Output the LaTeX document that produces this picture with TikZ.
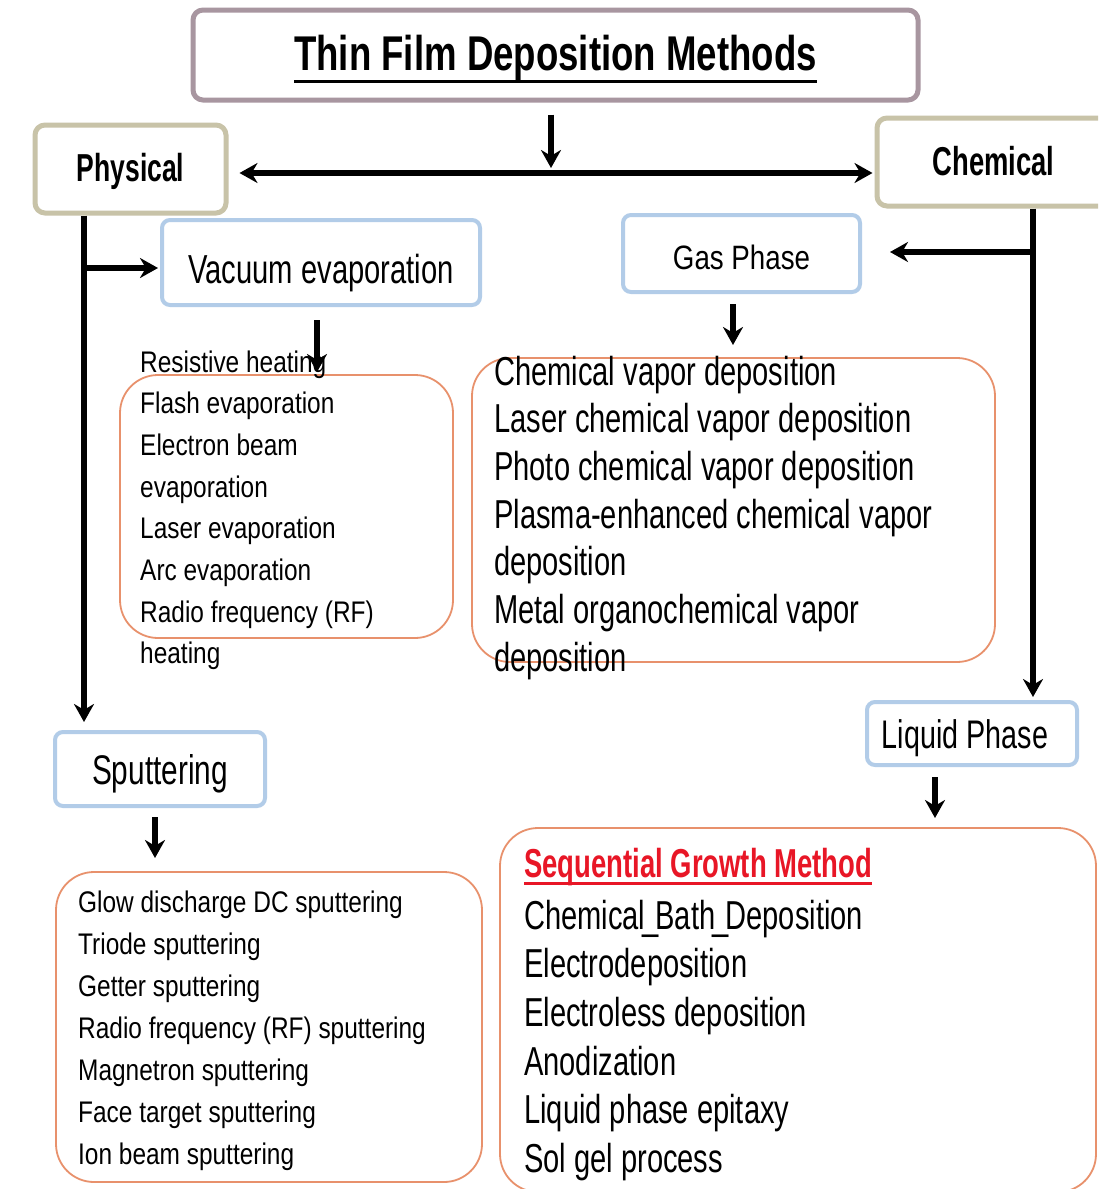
\documentclass[tikz,border=0pt]{standalone}
\usepackage{fontspec}
\setmainfont{Liberation Sans}[FakeStretch=0.72]
\newfontfamily\sfam{Liberation Sans}[FakeStretch=0.82]
\newfontfamily\bfam{Liberation Sans}[FakeStretch=0.68]
\newfontfamily\tfam{Liberation Sans}[FakeStretch=0.75]
\usetikzlibrary{arrows.meta,calc}
\definecolor{titleborder}{RGB}{168,150,160}
\definecolor{tanborder}{RGB}{200,195,168}
\definecolor{blueborder}{RGB}{178,204,232}
\definecolor{orangeborder}{RGB}{232,145,108}
\definecolor{redtext}{RGB}{232,22,38}
\newcommand\myul[3]{\setbox0\hbox{#3}\rlap{\rule[-#1]{\wd0}{#2}}\box0}
\newcommand\tightus{\kern-3pt\_\kern-3pt}
\begin{document}
\begin{tikzpicture}[x=1pt,y=-1pt,
  mybox/.style={draw, rounded corners=10pt, inner sep=0pt, align=center, fill=white},
  titlebox/.style={mybox, draw=titleborder, line width=5pt},
  catbox/.style={mybox, draw=tanborder, line width=5pt, font=\bfam\bfseries\fontsize{39}{44}\selectfont},
  subbox/.style={mybox, draw=blueborder, line width=4pt, rounded corners=8pt, font=\fontsize{40.5}{46}\selectfont},
  listbox/.style={draw=orangeborder, line width=1.8pt, rounded corners=38pt, inner sep=0pt},
  itemtxt/.style={anchor=base west, inner sep=0pt},
  smalltxt/.style={itemtxt, font=\sfam\fontsize{29.8}{36}\selectfont},
  bigtxt/.style={itemtxt, font=\fontsize{40.4}{46}\selectfont},
  arr/.style={line width=6pt, -{Stealth[length=18pt,width=20pt]}},
  darr/.style={line width=6.5pt, {Stealth[length=18pt,width=20pt]}-{Stealth[length=18pt,width=20pt]}}
]
\useasboundingbox (0,0) rectangle (1098,1189);
\clip (0,0) rectangle (1098,1189);
\fill[white] (0,0) rectangle (1098,1189);

% main boxes
\node[titlebox, minimum width=725pt, text height=60pt, text depth=30pt] (title) at (555.5,55)
  {\tfam\bfseries\fontsize{48.8}{55}\selectfont\myul{12.5pt}{3pt}{Thin Film Deposition Methods}};
\node[catbox, minimum width=191pt, text height=56pt, text depth=32pt] (phys) at (130.5,169) {Physical};
\node[catbox, minimum width=233pt, text height=57pt, text depth=31pt, font=\bfam\bfseries\fontsize{40.3}{46}\selectfont] (chem) at (993.5,162) {Chemical};

\node[subbox, minimum width=318pt, text height=63pt, text depth=22pt] (vac) at (321,262.5) {Vacuum evaporation};
\node[subbox, minimum width=237pt, text height=54pt, text depth=23pt, font=\sfam\fontsize{33.8}{40}\selectfont] (gas) at (741.5,253.5) {Gas Phase};
\node[subbox, minimum width=210pt, text height=46pt, text depth=17pt, font=\fontsize{39.9}{46}\selectfont] (liq) at (972,733.5) {Liquid Phase\hspace*{14pt}};
\node[subbox, minimum width=210pt, text height=52pt, text depth=22pt, font=\fontsize{41.4}{48}\selectfont] (sput) at (160,769) {Sputtering};

% list boxes
\node[listbox, minimum width=333pt, minimum height=263pt] (vlist) at (286.5,506.5) {};
\node[listbox, minimum width=523pt, minimum height=304pt] (glist) at (733.5,510) {};
\node[listbox, minimum width=426pt, minimum height=310pt] (slist) at (269,1027) {};
\node[listbox, minimum width=596pt, minimum height=364pt] (qlist) at (798,1010) {};

% list texts
\foreach \t [count=\i] in {Resistive heating, Flash evaporation, Electron beam, evaporation, Laser evaporation, Arc evaporation, Radio frequency (RF), heating}
  \node[smalltxt] (v\i) at (140,{372+41.7*(\i-1)}) {\t};
\foreach \t [count=\i] in {Glow discharge DC sputtering, Triode sputtering, Getter sputtering, Radio frequency (RF) sputtering, Magnetron sputtering, Face target sputtering, Ion beam sputtering}
  \node[smalltxt] (s\i) at (78,{912+42*(\i-1)}) {\t};
\foreach \t [count=\i] in {Chemical vapor deposition, Laser chemical vapor deposition, Photo chemical vapor deposition, Plasma-enhanced chemical vapor, deposition, Metal organochemical vapor, deposition}
  \node[bigtxt] (g\i) at (494,{385+47.7*(\i-1)}) {\t};
\node[itemtxt, text=redtext, font=\bfam\bfseries\fontsize{40.4}{46}\selectfont] (q0) at (524,877)
  {\myul{7.5pt}{3pt}{Sequential Growth Method}};
\foreach \t [count=\i] in {Chemical\tightus Bath\tightus Deposition, Electrodeposition, Electroless deposition, Anodization, Liquid phase epitaxy, Sol gel process}
  \node[bigtxt] (q\i) at (524,{929+48.7*(\i-1)}) {\t};

% connectors
\coordinate (hub) at (551,173);
\draw[arr] ([yshift=-12pt]title.south -| hub) -- ([yshift=5pt]hub);
\draw[darr] ([xshift=11pt]phys.east |- hub) -- ([xshift=-2pt]chem.west |- hub);

\coordinate (pbot) at (84,722);
\draw[arr] (phys.south -| pbot) -- (pbot);
\coordinate (pbr) at (84,268);
\draw[arr] (pbr) -- ([xshift=-2pt]vac.west |- pbr);
\coordinate (vtip) at (317,372);
\draw[arr] ([yshift=-13pt]vac.south -| vtip) -- (vtip);

\coordinate (cbot) at (1033,697);
\draw[arr] (chem.south -| cbot) -- (cbot);
\coordinate (cbr) at (1033,252);
\draw[arr] (cbr) -- ([xshift=28pt]gas.east |- cbr);
\coordinate (gtip) at (733,345);
\draw[arr] ([yshift=-10pt]gas.south -| gtip) -- (gtip);

\coordinate (ltip) at (935,818);
\draw[arr] ([yshift=-10pt]liq.south -| ltip) -- (ltip);
\coordinate (stip) at (155,858);
\draw[arr] ([yshift=-9pt]sput.south -| stip) -- (stip);
\end{tikzpicture}
\end{document}
